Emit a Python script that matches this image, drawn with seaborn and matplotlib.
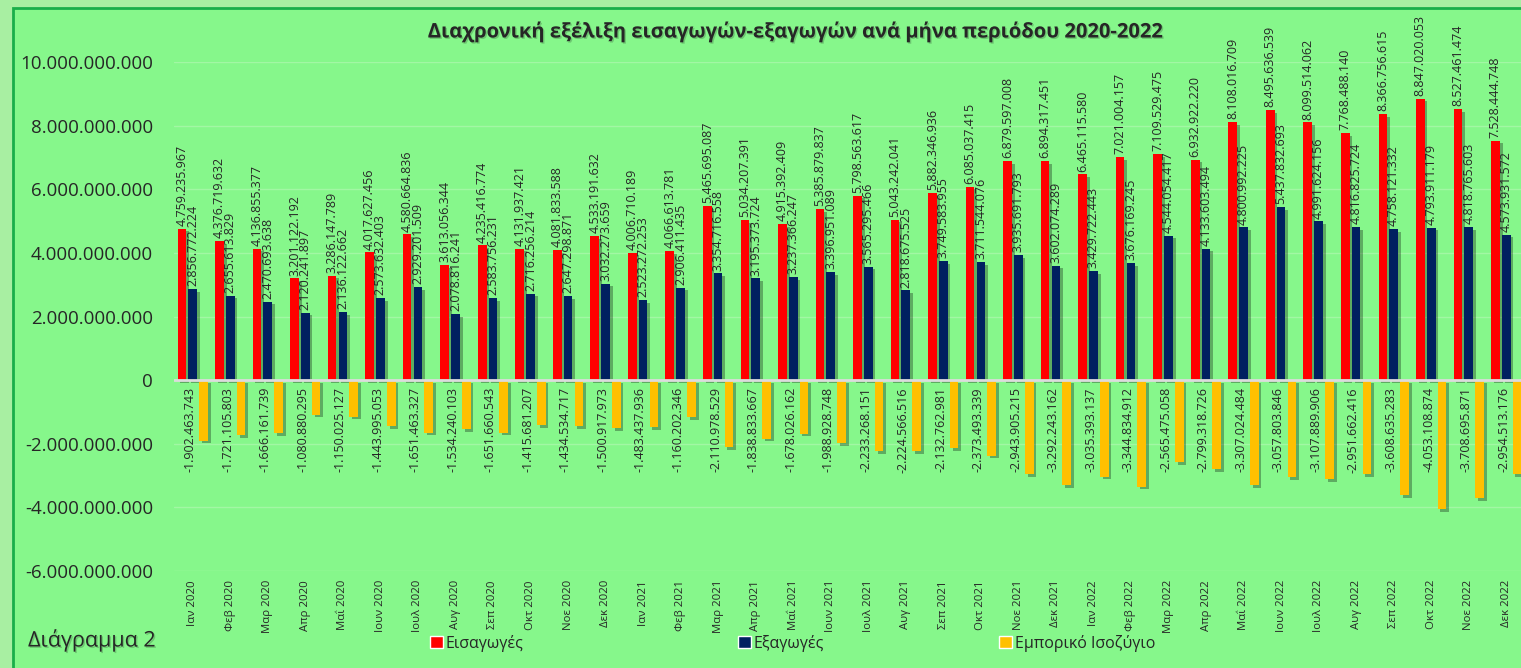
import pandas as pd
import matplotlib
matplotlib.use("Agg")
import matplotlib.pyplot as plt
import matplotlib.patheffects as pe
from matplotlib.patches import Rectangle, Patch
import seaborn as sns

# --- Datos (lectura del gráfico) ---
meses = ["Ιαν", "Φεβ", "Μαρ", "Απρ", "Μαΐ", "Ιουν", "Ιουλ", "Αυγ", "Σεπ", "Οκτ", "Νοε", "Δεκ"]
anios = [2020, 2021, 2022]
categorias = [f"{m} {a}" for a in anios for m in meses]

eisagoges = [4759235967, 4376719632, 4136855377, 3201122192, 3286147789, 4017627456,
             4580664836, 3613056344, 4235416774, 4131937421, 4081833588, 4533191632,
             4006710189, 4066613781, 5465695087, 5034207391, 4915392409, 5385879837,
             5798563617, 5043242041, 5882346936, 6085037415, 6879597008, 6894317451,
             6465115580, 7021004157, 7109529475, 6932922220, 8108016709, 8495636539,
             8099514062, 7768488140, 8366756615, 8847020053, 8527461474, 7528444748]

exagoges = [2856772224, 2655613829, 2470693638, 2120241897, 2136122662, 2573632403,
            2929201509, 2078816241, 2583756231, 2716256214, 2647298871, 3032273659,
            2523272253, 2906411435, 3354716558, 3195373724, 3237366247, 3396951089,
            3565295466, 2818675525, 3749583955, 3711544076, 3935691793, 3602074289,
            3429722443, 3676169245, 4544054417, 4133603494, 4800992225, 5437832693,
            4991624156, 4816825724, 4758121332, 4793911179, 4818765603, 4573931572]

isozygio = [-1902463743, -1721105803, -1666161739, -1080880295, -1150025127, -1443995053,
            -1651463327, -1534240103, -1651660543, -1415681207, -1434534717, -1500917973,
            -1483437936, -1160202346, -2110978529, -1838833667, -1678026162, -1988928748,
            -2233268151, -2224566516, -2132762981, -2373493339, -2943905215, -3292243162,
            -3035393137, -3344834912, -2565475058, -2799318726, -3307024484, -3057803846,
            -3107889906, -2951662416, -3608635283, -4053108874, -3708695871, -2954513176]

series = ["Εισαγωγές", "Εξαγωγές", "Εμπορικό Ισοζύγιο"]
colores = ["#FF0000", "#002060", "#FFC000"]
yticks = list(range(-6_000_000_000, 10_000_000_001, 2_000_000_000))

titulo = "Διαχρονική εξέλιξη εισαγωγών-εξαγωγών ανά μήνα περιόδου 2020-2022"
nota = "Διάγραμμα 2"


def fmt(v):
    return f"{v:,}".replace(",", ".")


df = pd.DataFrame({
    "mes": categorias * 3,
    "valor": eisagoges + exagoges + isozygio,
    "serie": [s for s in series for _ in categorias],
})

# --- Figura ---
sns.set_style("white")
plt.rcParams["font.family"] = ["Open Sans", "DejaVu Sans"]

W, H = 1521, 668
fig = plt.figure(figsize=(W / 100, H / 100), dpi=100)
fig.patch.set_facecolor("#A8EFA2")
fig.add_artist(Rectangle((13 / W, -0.05), 1.1, 1 - 8 / H + 0.05, transform=fig.transFigure,
                         facecolor="#86F78B", edgecolor="#1AAE4A", lw=2, zorder=-1))

ax = fig.add_axes([174 / W, 97 / H, 1351 / W, 509 / H])
ax.set_facecolor("none")

sns.barplot(data=df, x="mes", y="valor", hue="serie", order=categorias, hue_order=series,
            palette=colores, saturation=1, width=0.864, gap=0.2, ax=ax, legend=False)

sombra = [pe.SimplePatchShadow(offset=(2, -2), alpha=0.3, shadow_rgbFace="black"), pe.Normal()]
for p in ax.patches:
    p.set_path_effects(sombra)
    p.set_edgecolor("none")

ax.set_xlim(-0.5, len(categorias) - 0.5)
ax.set_ylim(yticks[0], yticks[-1])
ax.set_yticks(yticks)
ax.set_yticklabels([fmt(v) for v in yticks], fontsize=13.5)
ax.set_xticks(range(len(categorias)))
ax.set_xticklabels(categorias, rotation=90, fontsize=8.2)
ax.tick_params(axis="y", length=0, pad=15)
ax.tick_params(axis="x", length=0, pad=6.5)
ax.set_xlabel("")
ax.set_ylabel("")
for s in ax.spines.values():
    s.set_visible(False)
ax.yaxis.grid(True, color="#A2F7A4", lw=1)
ax.set_axisbelow(True)
ax.axhline(0, color="#DCDCDC", lw=2, zorder=3)

# etiquetas de datos
for cont in ax.containers[:2]:
    ax.bar_label(cont, labels=[fmt(int(v)) for v in cont.datavalues], rotation=90,
                 padding=2, fontsize=9)
for i, v in enumerate(isozygio):
    ax.annotate(fmt(v), (i - 0.07, 0), xytext=(0, -7), textcoords="offset pixels",
                rotation=90, ha="center", va="top", fontsize=9)

# textos
fig.text(795 / W, 1 - 32 / H, titulo, ha="center", va="center", fontsize=14.5,
         fontweight="bold",
         path_effects=[pe.withSimplePatchShadow(offset=(1, -1), alpha=0.2)])
fig.text(28 / W, 1 - 640 / H, nota, ha="left", va="center", fontsize=15.5,
         path_effects=[pe.withSimplePatchShadow(offset=(1, -1), alpha=0.2)])

for c, l, x in zip(colores, series, [430, 738, 999]):
    fig.legend([Patch(facecolor=c)], [l], loc="center left",
               bbox_to_anchor=(x / W, 1 - 643 / H), frameon=False, fontsize=11.5,
               handlelength=0.8, handleheight=0.8, handletextpad=0.2,
               borderpad=0, borderaxespad=0)

fig.savefig("out.png", dpi=100, facecolor=fig.get_facecolor())
